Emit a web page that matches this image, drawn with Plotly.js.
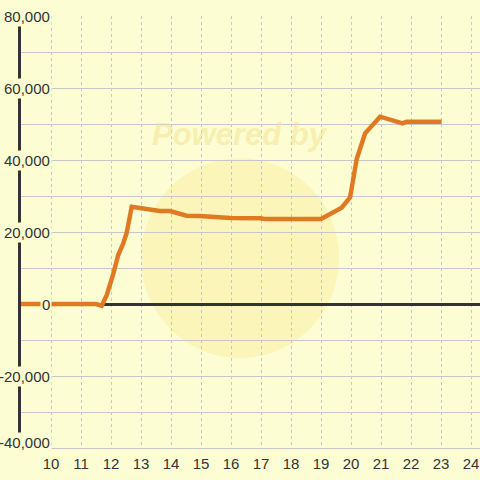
<!DOCTYPE html>
<html><head><meta charset="utf-8">
<script src="https://cdn.plot.ly/plotly-3.0.1.min.js"></script>
<style>html,body{margin:0;padding:0;background:#fdfdd3;}#chart{width:480px;height:480px;}</style>
</head><body><div id="chart"></div>
<script>
const xVals = [9, 10, 11, 11.5, 11.69, 11.86, 12.08, 12.24, 12.41, 12.52, 12.69, 13.02, 13.3, 13.63, 13.97, 14.3, 14.52, 14.97, 15.52, 15.74, 15.97, 16.97, 17.13, 18, 19, 19.69, 19.97, 20.19, 20.47, 20.97, 21.72, 21.85, 21.97, 23.02];
const yVals = [0, 0, 0, 0, -470, 2500, 8530, 13600, 16860, 19640, 27030, 26580, 26300, 25830, 25830, 25190, 24530, 24440, 23980, 23800, 23890, 23800, 23600, 23600, 23600, 26750, 29640, 40280, 47400, 52030, 50190, 50650, 50650, 50650];
const yTickVals = [80000, 60000, 40000, 20000, 0, -20000, -40000];
const yTickText = ['80,000', '60,000', '40,000', '20,000', '0', '-20,000', '-40,000'];
const xTickVals = [10, 11, 12, 13, 14, 15, 16, 17, 18, 19, 20, 21, 22, 23, 24];

const bg = '#fdfdd3';
const annotations = yTickVals.map((v, i) => ({
  xref: 'paper', yref: 'y', x: 0.0675, y: v, xanchor: 'right', yanchor: 'middle',
  yshift: i === yTickVals.length - 1 ? 6 : 0,
  text: yTickText[i], showarrow: false, bgcolor: bg, borderpad: 1,
  font: {family: 'Liberation Sans, Arial, sans-serif', size: 15, color: '#333'}
}));
annotations.unshift({
  xref: 'x', yref: 'y', x: 16.3, y: 47000, text: '<b><i>Powered by</i></b>', showarrow: false,
  font: {family: 'Liberation Sans, Arial, sans-serif', size: 31, color: 'rgba(240,225,140,0.5)'}
});

Plotly.newPlot('chart', [{
  x: xVals, y: yVals, type: 'scatter', mode: 'lines',
  line: {color: '#e07a22', width: 4.5}, hoverinfo: 'skip'
}], {
  width: 480, height: 480,
  margin: {l: 21, r: 0, t: 16, b: 32, pad: 0},
  paper_bgcolor: bg, plot_bgcolor: bg,
  showlegend: false,
  xaxis: {
    range: [9, 24.3], tickvals: xTickVals, ticks: '',
    showline: true, linecolor: '#c6c6cc', linewidth: 1,
    showgrid: true, gridcolor: '#c6c6c6', griddash: '3px,3px', gridwidth: 1,
    zeroline: false, ticklabelstandoff: 2,
    tickfont: {family: 'Liberation Sans, Arial, sans-serif', size: 15, color: '#333'}
  },
  yaxis: {
    range: [-40000, 80000], dtick: 10000, tick0: 0, showticklabels: false, ticks: '',
    showgrid: true, gridcolor: '#c6c6cc', gridwidth: 1,
    showline: true, linecolor: '#333', linewidth: 3,
    zeroline: true, zerolinecolor: '#333', zerolinewidth: 3
  },
  shapes: [{
    type: 'circle', xref: 'x', yref: 'y', layer: 'below',
    x0: 13.0, x1: 19.6, y0: -15000, y1: 40500,
    fillcolor: 'rgba(250,228,120,0.28)', line: {width: 0}
  }],
  annotations: annotations
}, {staticPlot: true});
</script></body></html>
